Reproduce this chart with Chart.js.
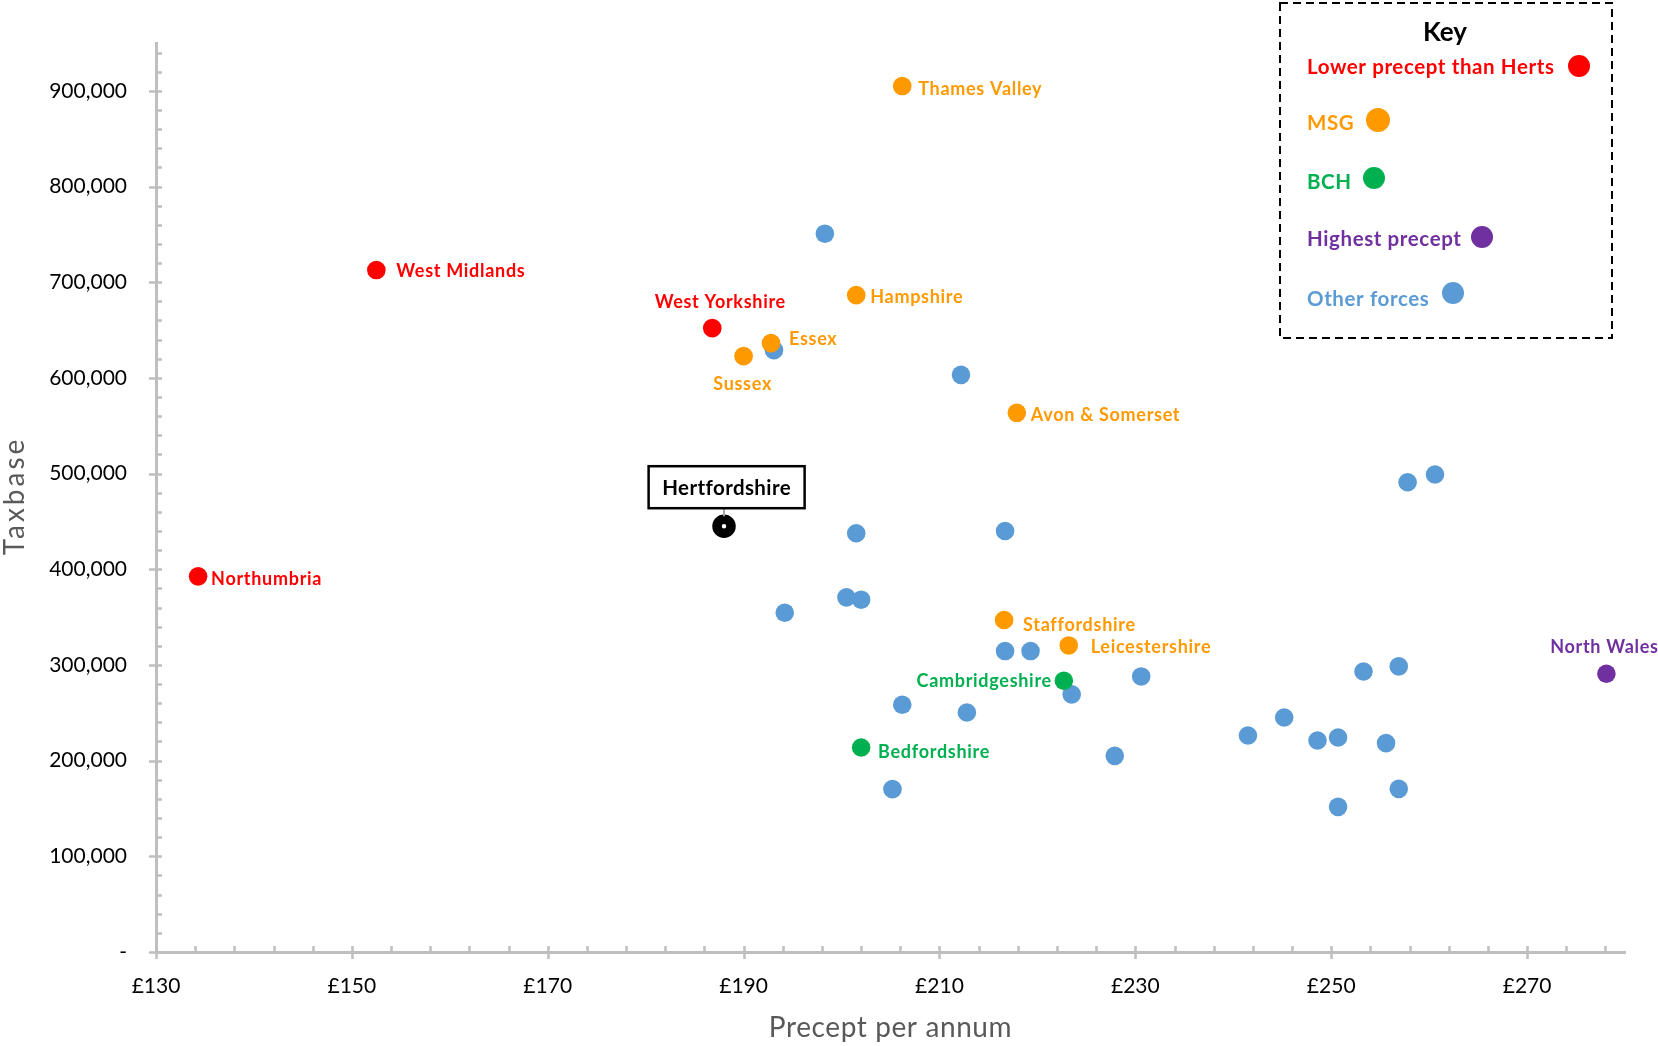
<!DOCTYPE html>
<html><head><meta charset="utf-8">
<script src="https://cdn.jsdelivr.net/npm/chart.js@4.4.1/dist/chart.umd.min.js"></script>
<style>html,body{margin:0;padding:0;background:#fff;overflow:hidden}</style>
</head><body>
<canvas id="c" width="1658" height="1046"></canvas>
<script>
// ---------- DATA ----------
const lowerNames   = ['West Midlands', 'West Yorkshire', 'Northumbria'];
const lowerPrecept = [152.5, 186.8, 134.3];
const lowerTaxbase = [712700, 652000, 392600];

const msgNames   = ['Thames Valley', 'Hampshire', 'Essex', 'Sussex', 'Avon & Somerset', 'Staffordshire', 'Leicestershire'];
const msgPrecept = [206.2, 201.5, 192.8, 190.0, 217.9, 216.6, 223.2];
const msgTaxbase = [905000, 686500, 636300, 622700, 563500, 347000, 320400];

const bchNames   = ['Cambridgeshire', 'Bedfordshire'];
const bchPrecept = [222.7, 202.0];
const bchTaxbase = [283500, 213700];

const highestNames   = ['North Wales'];
const highestPrecept = [278.1];
const highestTaxbase = [290800];

const hertsNames   = ['Hertfordshire'];
const hertsPrecept = [188.0];
const hertsTaxbase = [445000];

const otherPrecept = [198.3, 193.1, 212.2, 257.8, 260.6, 216.7, 201.5, 194.2, 200.5, 202.0, 216.7, 219.3, 230.6, 223.5, 206.2, 212.8, 205.2, 227.9, 241.5, 245.2, 248.6, 250.7, 255.6, 253.3, 256.9, 256.9, 250.7];
const otherTaxbase = [750700, 629000, 603200, 490900, 499000, 440000, 437600, 354600, 370600, 368200, 314500, 314500, 288000, 269200, 258400, 250300, 170200, 205000, 226300, 245100, 221000, 224200, 218300, 293200, 298500, 170500, 151700];

const xTicks = [130, 150, 170, 190, 210, 230, 250, 270];
const yTicks = [0, 100000, 200000, 300000, 400000, 500000, 600000, 700000, 800000, 900000];
const xMin = 130, xMax = 280, xMinor = 4;
const yMin = 0, yMax = 950000, yMinor = 20000;

const keyItems = ['Lower precept than Herts', 'MSG', 'BCH', 'Highest precept', 'Other forces'];

// ---------- STYLE ----------
const FONT = 'Lato, "Open Sans", sans-serif';
const C = { red: '#FF0000', orange: '#FF9900', green: '#00B050', purple: '#7030A0', blue: '#5B9BD5', axis: '#BFBFBF', title: '#595959' };

const labelPos = {
  'West Midlands': {dx: 20, dy: 1, align: 'left'},
  'West Yorkshire': {dx: 8, dy: -26, align: 'center'},
  'Northumbria': {dx: 13, dy: 3, align: 'left'},
  'Thames Valley': {dx: 16, dy: 3, align: 'left'},
  'Hampshire': {dx: 14, dy: 2, align: 'left'},
  'Essex': {dx: 18, dy: -4, align: 'left'},
  'Sussex': {dx: -1, dy: 28, align: 'center'},
  'Avon & Somerset': {dx: 14, dy: 2, align: 'left'},
  'Staffordshire': {dx: 19, dy: 5, align: 'left'},
  'Leicestershire': {dx: 22, dy: 2, align: 'left'},
  'Cambridgeshire': {dx: -12, dy: 0, align: 'right'},
  'Bedfordshire': {dx: 17, dy: 5, align: 'left'},
  'North Wales': {dx: -2, dy: -27, align: 'center'}
};

function pts(xs, ys) { return xs.map((x, i) => ({x: x, y: ys[i]})); }

const datasets = [
  {label: 'Hertfordshire', names: hertsNames, data: pts(hertsPrecept, hertsTaxbase), backgroundColor: '#fff', borderColor: '#000', borderWidth: 9.5, pointRadius: 7, pointHoverRadius: 7, textColor: '#000'},
  {label: 'Lower precept than Herts', names: lowerNames, data: pts(lowerPrecept, lowerTaxbase), backgroundColor: C.red, textColor: C.red},
  {label: 'MSG', names: msgNames, data: pts(msgPrecept, msgTaxbase), backgroundColor: C.orange, textColor: C.orange},
  {label: 'BCH', names: bchNames, data: pts(bchPrecept, bchTaxbase), backgroundColor: C.green, textColor: C.green},
  {label: 'Highest precept', names: highestNames, data: pts(highestPrecept, highestTaxbase), backgroundColor: C.purple, textColor: C.purple},
  {label: 'Other forces', names: [], data: pts(otherPrecept, otherTaxbase), backgroundColor: C.blue, textColor: C.blue}
];
datasets.forEach(d => {
  if (d.pointRadius === undefined) { d.pointRadius = 9.3; d.pointHoverRadius = 9.3; d.borderWidth = 0; }
});

const decor = {
  id: 'decor',
  beforeDatasetsDraw(chart) {
    const ctx = chart.ctx, xs = chart.scales.x, ys = chart.scales.y;
    const ax = chart.chartArea.left, ay = chart.chartArea.bottom;
    ctx.save();
    ctx.strokeStyle = C.axis; ctx.lineWidth = 2.5;
    ctx.beginPath();
    for (let v = yMin; v < yMax; v += yMinor) {
      const py = Math.round(ys.getPixelForValue(v)) + 0.5;
      if (yTicks.includes(v)) { ctx.moveTo(ax - 7, py); ctx.lineTo(ax + 6, py); }
      else { ctx.moveTo(ax, py); ctx.lineTo(ax + 6, py); }
    }
    for (let v = xMin; v < xMax; v += xMinor) {
      const px = Math.round(xs.getPixelForValue(v)) + 0.5;
      if (xTicks.includes(v)) { ctx.moveTo(px, ay - 6); ctx.lineTo(px, ay + 7); }
      else { ctx.moveTo(px, ay - 6); ctx.lineTo(px, ay); }
    }
    ctx.stroke();
    // axis titles
    ctx.fillStyle = C.title;
    ctx.font = '28px ' + FONT;
    ctx.textAlign = 'center'; ctx.textBaseline = 'middle';
    ctx.letterSpacing = '0.6px';
    ctx.fillText('Precept per annum', (chart.chartArea.left + chart.chartArea.right) / 2, 1028);
    ctx.letterSpacing = '3px';
    ctx.translate(15, (chart.chartArea.top + chart.chartArea.bottom) / 2);
    ctx.rotate(-Math.PI / 2);
    ctx.fillText('Taxbase', 1.5, 0);
    ctx.restore();
  },
  afterDatasetsDraw(chart) {
    const ctx = chart.ctx;
    ctx.save();
    ctx.textBaseline = 'middle';
    chart.data.datasets.forEach((ds, di) => {
      const meta = chart.getDatasetMeta(di);
      (ds.names || []).forEach((name, i) => {
        const el = meta.data[i];
        if (name === 'Hertfordshire') {
          const bw = 156, bh = 42;
          const cx = el.x + 2.6, bottom = el.y - 18;
          ctx.strokeStyle = '#A6A6A6'; ctx.lineWidth = 2;
          ctx.beginPath(); ctx.moveTo(el.x, bottom); ctx.lineTo(el.x, el.y - 10); ctx.stroke();
          ctx.fillStyle = '#fff';
          ctx.fillRect(cx - bw / 2, bottom - bh, bw, bh);
          ctx.strokeStyle = '#000'; ctx.lineWidth = 2.5;
          ctx.strokeRect(cx - bw / 2, bottom - bh, bw, bh);
          ctx.fillStyle = '#000'; ctx.font = 'bold 20.5px ' + FONT; ctx.textAlign = 'center';
          ctx.letterSpacing = '0.4px';
          ctx.fillText(name, cx, bottom - bh / 2 + 1);
          return;
        }
        const p = labelPos[name] || {dx: 12, dy: 0, align: 'left'};
        ctx.fillStyle = ds.textColor;
        ctx.font = 'bold 18px ' + FONT;
        ctx.letterSpacing = '0.7px';
        ctx.textAlign = p.align;
        ctx.fillText(name, el.x + p.dx, el.y + p.dy);
      });
    });
    ctx.restore();
  },
  afterDraw(chart) {
    const ctx = chart.ctx;
    ctx.save();
    // key box
    ctx.setLineDash([8, 5]);
    ctx.strokeStyle = '#000'; ctx.lineWidth = 2;
    ctx.strokeRect(1280, 3, 332, 335);
    ctx.setLineDash([]);
    ctx.textBaseline = 'middle';
    ctx.fillStyle = '#000'; ctx.font = 'bold 26px ' + FONT; ctx.textAlign = 'center';
    ctx.fillText('Key', 1445, 33);
    const rows = [
      {t: keyItems[0], c: C.red, y: 67, dot: 1579, dy: 66, r: 11},
      {t: keyItems[1], c: C.orange, y: 123, dot: 1378, dy: 120, r: 12},
      {t: keyItems[2], c: C.green, y: 182, dot: 1374, dy: 178, r: 11},
      {t: keyItems[3], c: C.purple, y: 239, dot: 1482, dy: 237, r: 11},
      {t: keyItems[4], c: C.blue, y: 299, dot: 1453, dy: 293, r: 11}
    ];
    ctx.textAlign = 'left';
    ctx.font = 'bold 20.5px ' + FONT;
    ctx.letterSpacing = '0.6px';
    rows.forEach(r => {
      ctx.fillStyle = r.c;
      ctx.fillText(r.t, 1307, r.y);
      ctx.beginPath(); ctx.arc(r.dot, r.dy, r.r, 0, Math.PI * 2); ctx.fill();
    });
    ctx.restore();
  }
};

new Chart(document.getElementById('c'), {
  type: 'scatter',
  data: {datasets: datasets},
  options: {
    responsive: false,
    animation: false,
    devicePixelRatio: 1,
    layout: {padding: {top: 43, right: 33, bottom: 0, left: 0}},
    plugins: {legend: {display: false}, tooltip: {enabled: false}},
    scales: {
      x: {
        type: 'linear', position: 'bottom', min: xMin, max: xMax,
        afterBuildTicks: s => { s.ticks = xTicks.map(v => ({value: v})); },
        afterFit: s => { s.height = 94; },
        ticks: {autoSkip: false, padding: 22, color: '#000', font: {family: FONT, size: 21}, callback: v => '£' + v, maxRotation: 0, minRotation: 0},
        grid: {display: false, drawTicks: false},
        border: {display: true, color: C.axis, width: 3}
      },
      y: {
        type: 'linear', min: yMin, max: yMax,
        afterBuildTicks: s => { s.ticks = yTicks.map(v => ({value: v})); },
        afterFit: s => { s.width = 156; },
        ticks: {autoSkip: false, padding: 29, color: '#000', font: {family: FONT, size: 21}, callback: v => v === 0 ? '-' : v.toLocaleString('en-GB')},
        grid: {display: false, drawTicks: false},
        border: {display: true, color: C.axis, width: 3}
      }
    }
  },
  plugins: [decor]
});
</script>
</body></html>
